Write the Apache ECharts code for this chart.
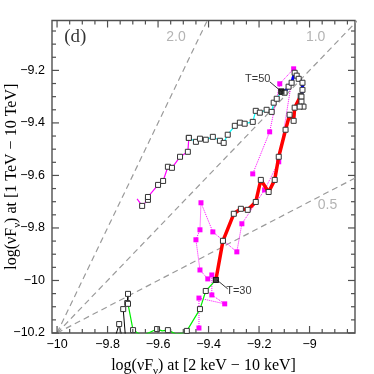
<!DOCTYPE html>
<html><head><meta charset="utf-8">
<script src="https://cdn.jsdelivr.net/npm/echarts@6/dist/echarts.min.js"></script>
<style>html,body{margin:0;padding:0;background:#fff}#c{width:374px;height:374px}</style>
</head><body><div id="c"></div>
<script>
const X_MIN = -10.02, X_MAX = -8.82, Y_MIN = -10.2, Y_MAX = -9.01;

const xMajorTicks = [-10, -9.8, -9.6, -9.4, -9.2, -9.0];
const xMinorTicks = [-9.95, -9.9, -9.85, -9.75, -9.7, -9.65, -9.55, -9.5, -9.45, -9.35, -9.3, -9.25, -9.15, -9.1, -9.05, -8.95, -8.9, -8.85];
const yMajorTicks = [-10.2, -10.0, -9.8, -9.6, -9.4, -9.2];
const yMinorTicks = [-10.15, -10.1, -10.05, -9.95, -9.9, -9.85, -9.75, -9.7, -9.65, -9.55, -9.5, -9.45, -9.35, -9.3, -9.25, -9.15, -9.1, -9.05];

// reference ratio lines (through origin point)
const ratio20 = [[-10, -10.2], [-9.4, -9.0]];
const ratio10 = [[-10, -10.2], [-8.8, -9.0]];
const ratio05 = [[-10, -10.2], [-8.8, -9.6]];

const trackMagenta = [[-9.683,-9.689],[-9.663,-9.716],[-9.640,-9.693],[-9.640,-9.682],[-9.600,-9.636],[-9.580,-9.621],[-9.561,-9.567],[-9.545,-9.571],[-9.513,-9.529],[-9.482,-9.510],[-9.478,-9.457]];
const trackCyan = [[-9.478,-9.457],[-9.450,-9.472],[-9.434,-9.460],[-9.411,-9.464],[-9.383,-9.453],[-9.355,-9.468],[-9.340,-9.476],[-9.324,-9.445],[-9.296,-9.411],[-9.276,-9.399],[-9.257,-9.403],[-9.225,-9.396],[-9.213,-9.354],[-9.197,-9.361],[-9.170,-9.350],[-9.150,-9.358],[-9.142,-9.323],[-9.130,-9.308],[-9.111,-9.281]];
const trackBlue = [[-9.111,-9.281],[-9.099,-9.285],[-9.083,-9.262],[-9.071,-9.247],[-9.059,-9.209],[-9.051,-9.220],[-9.043,-9.232],[-9.028,-9.247],[-9.028,-9.274],[-9.032,-9.300],[-9.032,-9.319],[-9.024,-9.338],[-9.039,-9.338]];
const trackRed = [[-9.035,-9.297],[-9.059,-9.342],[-9.063,-9.392],[-9.079,-9.369],[-9.095,-9.426],[-9.122,-9.529],[-9.138,-9.617],[-9.162,-9.663],[-9.193,-9.617],[-9.213,-9.701],[-9.245,-9.731],[-9.272,-9.727],[-9.300,-9.746],[-9.343,-9.849],[-9.371,-9.998]];
const trackGreen = [[-9.719,-10.089],[-9.699,-10.189],[-9.663,-10.211],[-9.604,-10.185],[-9.584,-10.192],[-9.561,-10.189],[-9.529,-10.204],[-9.501,-10.200],[-9.486,-10.192],[-9.434,-10.109],[-9.411,-10.040],[-9.371,-9.998]];
const greenSquare = [0,1,0,1,0,1,0,0,1,1,1,0];
const blackLambda = [[-9.766,-10.204],[-9.754,-10.166],[-9.746,-10.204]];
const blackTrack = [[-9.730,-10.204],[-9.738,-10.109],[-9.722,-10.086],[-9.719,-10.051],[-9.719,-10.089]];
const magentaDotted = [[-9.438,-10.181],[-9.438,-10.067],[-9.336,-10.089],[-9.387,-10.055],[-9.387,-9.979],[-9.403,-9.994],[-9.434,-9.960],[-9.450,-9.845],[-9.434,-9.807],[-9.430,-9.704],[-9.383,-9.815],[-9.288,-9.891],[-9.268,-9.784],[-9.178,-9.655],[-9.122,-9.548],[-9.063,-9.194],[-9.118,-9.251],[-9.158,-9.434],[-9.225,-9.594]];

const keyPoints = [[-9.111,-9.281],[-9.371,-9.998]];
const leader50 = [[-9.158,-9.243],[-9.111,-9.281]];
const leader30 = [[-9.367,-9.998],[-9.324,-10.032]];

const annotations = [
  {name:'(d)', value:[-9.928,-9.072], color:'#000', size:19, family:'"Liberation Serif", serif'},
  {name:'2.0', value:[-9.529,-9.072], color:'#a0a0a0', size:14, family:'"Liberation Sans", sans-serif'},
  {name:'1.0', value:[-8.976,-9.072], color:'#a0a0a0', size:14, family:'"Liberation Sans", sans-serif'},
  {name:'0.5', value:[-8.929,-9.712], color:'#a0a0a0', size:14, family:'"Liberation Sans", sans-serif'},
  {name:'T=50', value:[-9.205,-9.232], color:'#000', size:11, family:'"Liberation Sans", sans-serif'},
  {name:'T=30', value:[-9.280,-10.040], color:'#000', size:11, family:'"Liberation Sans", sans-serif'}
];

const chart = echarts.init(document.getElementById('c'), null, {renderer:'canvas'});

function fmt(v){
  if (Math.abs(v*5 - Math.round(v*5)) > 1e-6) return '';
  const r = Math.round(v*10)/10;
  return String(r).replace('-', '\u2212');
}

// tick records: [x, y, kind(0 = x-axis tick, 1 = y-axis tick), length]
const tickData = [];
xMajorTicks.forEach(v => tickData.push([v, Y_MIN, 0, 7]));
xMinorTicks.forEach(v => tickData.push([v, Y_MIN, 0, 4]));
yMajorTicks.forEach(v => tickData.push([X_MIN, v, 1, 7]));
yMinorTicks.forEach(v => tickData.push([X_MIN, v, 1, 4]));

function renderTick(params, api){
  const kind = api.value(2), len = api.value(3);
  const style = {stroke:'#505050', lineWidth:1.2, fill:null};
  if (kind === 0) {
    const v = api.value(0);
    const b = api.coord([v, Y_MIN]), t = api.coord([v, Y_MAX]);
    return {type:'group', children:[
      {type:'line', shape:{x1:b[0], y1:b[1], x2:b[0], y2:b[1]-len}, style:style},
      {type:'line', shape:{x1:t[0], y1:t[1], x2:t[0], y2:t[1]+len}, style:style}
    ]};
  }
  const v = api.value(1);
  const l = api.coord([X_MIN, v]), r = api.coord([X_MAX, v]);
  return {type:'group', children:[
    {type:'line', shape:{x1:l[0], y1:l[1], x2:l[0]+len, y2:l[1]}, style:style},
    {type:'line', shape:{x1:r[0], y1:r[1], x2:r[0]-len, y2:r[1]}, style:style}
  ]};
}

const openSq = {color:'#fff', borderColor:'#333', borderWidth:1};
function dashLine(d){
  return {type:'line', data:d, symbol:'none', clip:true, z:1, silent:true,
    lineStyle:{color:'#9a9a9a', width:1.2, type:[6,4]}};
}
function track(d, color, width, z, marks){
  return {type:'line', data:d.map((p,i)=>({value:p, symbol:(marks && !marks[i]) ? 'none' : 'rect'})),
    symbol:'rect', symbolSize:5, showSymbol:true, clip:true, z:z, silent:true,
    lineStyle:{color:color, width:width}, itemStyle:openSq};
}

const nameRich = {
  a:{fontSize:16, lineHeight:22, fontFamily:'"Liberation Serif", serif', color:'#000', verticalAlign:'middle'},
  s:{fontSize:11, lineHeight:11, fontFamily:'"Liberation Serif", serif', color:'#000', verticalAlign:'bottom'}
};

const option = {
  animation:false,
  backgroundColor:'#fff',
  grid:{left:52, right:19, top:20.5, bottom:41, show:true, borderColor:'#505050', borderWidth:1.4, backgroundColor:'transparent', containLabel:false, outerBoundsMode:'none'},
  xAxis:{type:'value', min:X_MIN, max:X_MAX, splitNumber:6,
    axisLine:{show:false}, axisTick:{show:false}, splitLine:{show:false},
    axisLabel:{formatter:fmt, color:'#000', fontSize:12.5, fontFamily:'"Liberation Sans", sans-serif', margin:5},
    name:'{a|log(\u03BDF}{s|\u03BD}{a|) at [2 keV \u2212 10 keV]}', nameLocation:'middle', nameGap:22, nameMoveOverlap:false,
    nameTextStyle:{rich:nameRich}
  },
  yAxis:{type:'value', min:Y_MIN, max:Y_MAX, interval:0.2,
    axisLine:{show:false}, axisTick:{show:false}, splitLine:{show:false},
    axisLabel:{formatter:fmt, color:'#000', fontSize:12.5, fontFamily:'"Liberation Sans", sans-serif', margin:7},
    name:'{a|log(\u03BDF}{s|\u03BD}{a|) at [1 TeV \u2212 10 TeV]}', nameLocation:'middle', nameGap:29, nameMoveOverlap:false,
    nameTextStyle:{rich:nameRich}
  },
  series:[
    {type:'custom', renderItem:renderTick, data:tickData, z:10, silent:true, clip:false},
    dashLine(ratio20), dashLine(ratio10), dashLine(ratio05),
    {type:'line', data:magentaDotted, symbol:'rect', symbolSize:5, clip:true, z:2, silent:true,
      lineStyle:{color:'#ff00ff', width:1, type:'dotted'}, itemStyle:{color:'#ff00ff'}},
    track(blackLambda, '#000', 1, 3, [0,1,0]),
    track(blackTrack, '#000', 1, 3, [0,1,1,1,1]),
    track(trackGreen, '#00ee00', 1.2, 3, greenSquare),
    track(trackMagenta, '#ff00ff', 1.2, 3, trackMagenta.map((p,i)=>i===0?0:1)),
    track(trackCyan, '#00ffff', 1.2, 3),
    track(trackRed, '#ff0000', 3.5, 4),
    track(trackBlue, '#0000ff', 3, 4),
    {type:'line', data:leader50, symbol:'none', z:5, lineStyle:{color:'#000', width:0.8}, silent:true},
    {type:'line', data:leader30, symbol:'none', z:5, lineStyle:{color:'#000', width:0.8}, silent:true},
    {type:'scatter', data:keyPoints, symbol:'rect', symbolSize:6, z:6, itemStyle:{color:'#111'}, silent:true},
    {type:'scatter', symbolSize:0, z:7, silent:true,
      data:annotations.map(a=>({name:a.name, value:a.value,
        label:{show:true, position:'inside', formatter:a.name, color:a.color, fontSize:a.size, fontFamily:a.family}}))}
  ]
};
chart.setOption(option);
</script></body></html>
